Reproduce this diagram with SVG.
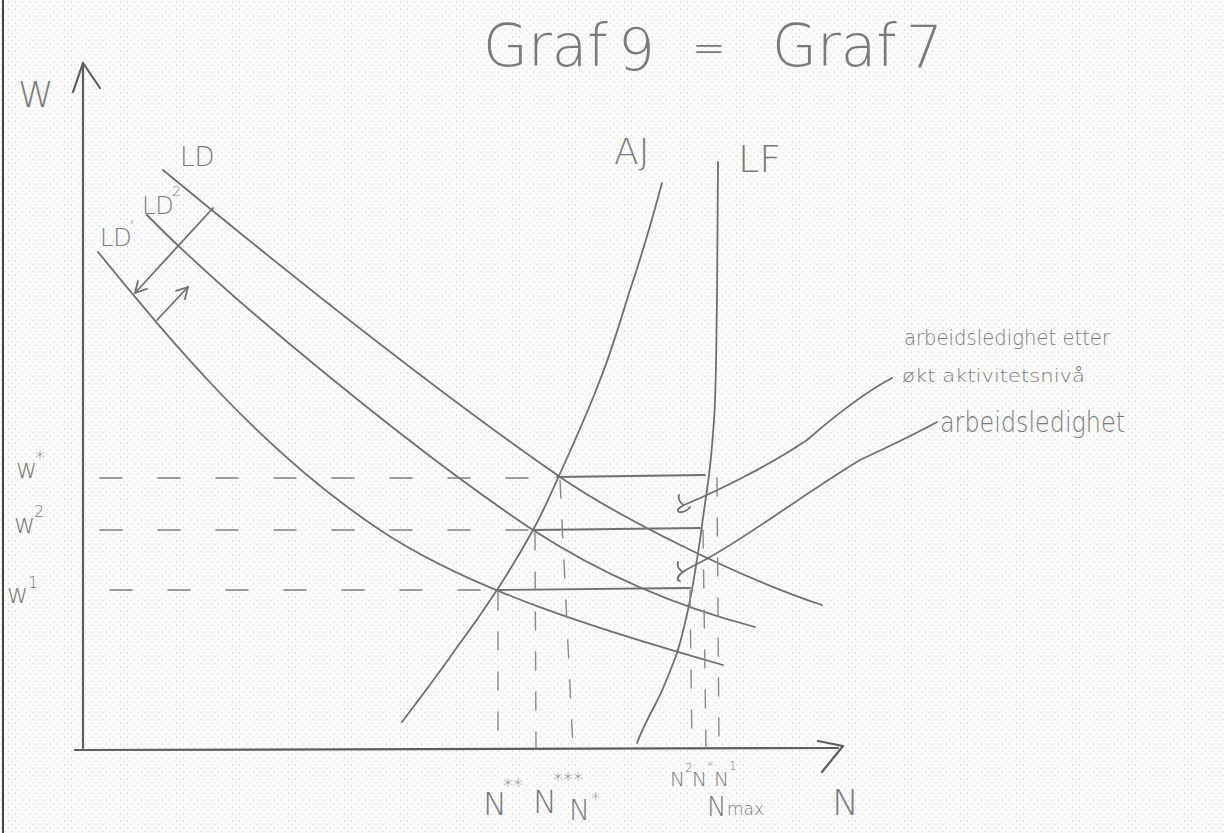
<svg xmlns="http://www.w3.org/2000/svg" width="1224" height="833" viewBox="0 0 1224 833">
<style>
.pen{fill:none;stroke:#707070;stroke-width:1.8;stroke-linecap:round;stroke-linejoin:round}
.axis{fill:none;stroke:#5e5e5e;stroke-width:2.2;stroke-linecap:round;stroke-linejoin:round}
.dash{fill:none;stroke:#808080;stroke-width:1.6;stroke-linecap:round;stroke-dasharray:22 36}
.vdash{fill:none;stroke:#8a8a8a;stroke-width:1.4;stroke-linecap:round;stroke-dasharray:18 22}
.t{font-family:"DejaVu Sans","Liberation Sans",sans-serif;fill:#7a7a7a;font-weight:200}
</style>
<defs>
<pattern id="dots" width="7" height="7" patternUnits="userSpaceOnUse">
<rect width="7" height="7" fill="#fafafa"/>
<circle cx="1.5" cy="2" r="0.6" fill="#bdbdbd"/>
<circle cx="5" cy="5.5" r="0.5" fill="#c8c8c8"/>
</pattern>
<marker id="ah" markerWidth="14" markerHeight="14" refX="12" refY="7" orient="auto" markerUnits="userSpaceOnUse">
<path d="M1,1 L12,7 L1,13" fill="none" stroke="#707070" stroke-width="1.8" stroke-linecap="round" stroke-linejoin="round"/>
</marker>
</defs>
<rect width="1224" height="833" fill="url(#dots)"/>
<line x1="3" y1="0" x2="3" y2="833" stroke="#444" stroke-width="2"/>

<g id="title">
<text class="t" x="483" y="66" font-size="58">Graf</text>
<text class="t" x="618" y="70" font-size="58">9</text>
<text class="t" x="692" y="62" font-size="40">=</text>
<text class="t" x="772" y="66" font-size="58">Graf</text>
<text class="t" x="906" y="68" font-size="58">7</text>
</g>

<g id="axes">
<path class="axis" d="M83,748 L83,63"/>
<path class="axis" d="M73,92 L83,63 L100,88"/>
<path class="axis" d="M75,750 L838,748"/>
<path class="axis" d="M818,741 L843,746 L822,772"/>
<text class="t" x="18" y="107" font-size="36">W</text>
<text class="t" x="832" y="815" font-size="36">N</text>
</g>

<g id="w-labels">
<text class="t" x="16" y="478" font-size="26">w</text>
<text class="t" x="35" y="464" font-size="20">*</text>
<text class="t" x="14" y="533" font-size="26">w</text>
<text class="t" x="34" y="517" font-size="16">2</text>
<text class="t" x="7" y="603" font-size="26">w</text>
<text class="t" x="28" y="588" font-size="16">1</text>
</g>

<g id="LD">
<path class="pen" d="M163,170 C260,250 420,380 560,477 C620,518 740,578 822,605"/>
<text class="t" x="180" y="166" font-size="26">LD</text>
</g>
<g id="LD2">
<path class="pen" d="M147,215 C230,300 420,455 533,530 C610,580 690,610 755,627"/>
<text class="t" x="142" y="214" font-size="24">LD</text>
<text class="t" x="172" y="196" font-size="14">2</text>
</g>
<g id="LD1">
<path class="pen" d="M98,252 C170,340 260,450 380,530 C470,590 600,630 723,665"/>
<text class="t" x="100" y="246" font-size="24">LD</text>
<text class="t" x="130" y="230" font-size="14">'</text>
</g>

<g id="AJ">
<path class="pen" d="M402,722 C420,698 440,672 455,650 C470,630 484,610 497,590 C510,570 522,550 533,530 C543,512 550,496 558,478 C573,445 588,412 600,380 C612,350 620,322 630,290 C642,255 652,220 662,183"/>
<text class="t" x="614" y="164" font-size="36">AJ</text>
</g>

<g id="LF">
<path class="pen" d="M718,162 L717,300 C716,360 716,395 714,420 C712,450 710,470 707,490 C704,510 702,525 700,540 C697,560 694,580 690,600 C686,620 682,637 677,653 C670,672 663,690 655,705 C648,718 642,730 637,743"/>
<text class="t" x="738" y="172" font-size="38">LF</text>
</g>

<g id="connectors">
<path class="dash" d="M100,478 L557,478"/>
<path class="dash" d="M100,530 L533,530"/>
<path class="dash" d="M110,590 L498,590"/>
<path class="pen" d="M557,477 L705,475"/>
<path class="pen" d="M533,530 L700,528"/>
<path class="pen" d="M498,590 L690,588"/>
<path class="vdash" d="M498,592 L498,748"/>
<path class="vdash" d="M535,532 L536,748"/>
<path class="vdash" d="M560,480 L573,748"/>
<path class="vdash" d="M690,590 L692,748"/>
<path class="vdash" d="M703,530 L706,748"/>
<path class="vdash" d="M717,478 L719,748"/>
<path class="pen" d="M213,208 L135,293" marker-end="url(#ah)"/>
<path class="pen" d="M157,320 L188,287" marker-end="url(#ah)"/>
<path class="pen" d="M892,378 C860,395 830,420 807,440 C770,465 720,490 684,505 C679,508 676,510 679,512 C683,513 688,510 690,507 M684,505 C680,503 678,499 679,495"/>
<path class="pen" d="M937,422 C910,437 885,448 860,460 C810,490 750,535 710,557 C698,564 688,568 683,572 C677,576 676,580 680,581 M683,572 C679,570 677,566 678,562"/>
</g>

<g id="annotations">
<text class="t" x="904" y="345" font-size="22" textLength="206" lengthAdjust="spacingAndGlyphs">arbeidsledighet etter</text>
<text class="t" x="902" y="382" font-size="17" textLength="183" lengthAdjust="spacingAndGlyphs">økt aktivitetsnivå</text>
<text class="t" x="940" y="432" font-size="28" textLength="185" lengthAdjust="spacingAndGlyphs">arbeidsledighet</text>
</g>

<g id="n-labels">
<text class="t" x="483" y="815" font-size="32">N</text>
<text class="t" x="503" y="792" font-size="20">**</text>
<text class="t" x="533" y="813" font-size="32">N</text>
<text class="t" x="553" y="786" font-size="20">***</text>
<text class="t" x="569" y="820" font-size="28">N</text>
<text class="t" x="591" y="805" font-size="18">*</text>
<text class="t" x="670" y="786" font-size="20">N</text>
<text class="t" x="685" y="772" font-size="12">2</text>
<text class="t" x="692" y="786" font-size="20">N</text>
<text class="t" x="707" y="770" font-size="13">*</text>
<text class="t" x="714" y="786" font-size="20">N</text>
<text class="t" x="729" y="770" font-size="12">1</text>
<text class="t" x="707" y="816" font-size="26">N</text>
<text class="t" x="727" y="815" font-size="17">max</text>
</g>
</svg>
